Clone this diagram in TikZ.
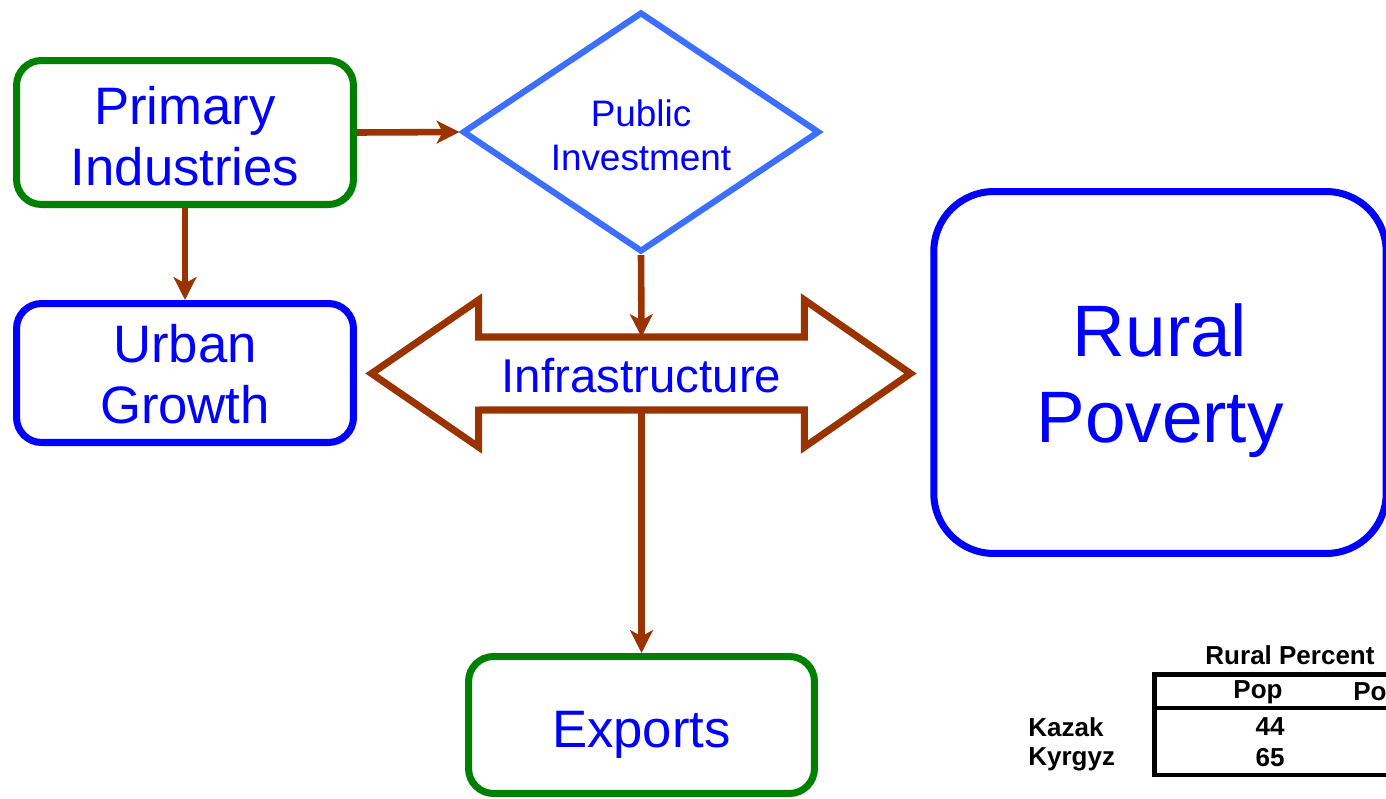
\documentclass[tikz,border=0pt]{standalone}
\usepackage{fontspec}
\setmainfont{Liberation Sans}
\usetikzlibrary{shapes.geometric, arrows.meta}

\definecolor{boxgreen}{RGB}{0,128,0}
\definecolor{boxblue}{RGB}{0,0,255}
\definecolor{lightblue}{RGB}{60,110,255}
\definecolor{rust}{RGB}{153,51,0}

% lower the ink of a line, keep its size
\newcommand{\lowtext}[2]{\raisebox{-#1}[\height][\depth]{#2}}

\tikzset{
    greenbox/.style={draw=boxgreen, line width=4pt, rounded corners=0.5cm, text=boxblue, align=center, inner sep=0pt},
    bluebox/.style={draw=boxblue, line width=4pt, rounded corners=0.5cm, text=boxblue, align=center, inner sep=0pt},
    flowarrow/.style={draw=rust, line width=3.75pt, -{Stealth[length=13pt, width=13pt, inset=3.5pt]}},
    tabletext/.style={font=\fontsize{14.8}{17}\selectfont\bfseries, inner sep=0pt}
}

\begin{document}
\begin{tikzpicture}[x=0.02cm, y=-0.02cm]
    % Fix the frame of the picture
    \useasboundingbox (0,0) rectangle (1386,798);
    \clip (0,0) rectangle (1386,798);

    % Boxes on the left
    \node[greenbox, minimum width=6.74cm, minimum height=2.88cm, font=\fontsize{30}{35}\selectfont] (primary) at (185,132.5) {\lowtext{2pt}{Primary}\\\lowtext{2pt}{Industries}};
    \node[bluebox, minimum width=6.74cm, minimum height=2.78cm, font=\fontsize{30}{35}\selectfont] (urban) at (185,373) {\lowtext{0.8pt}{Urban}\\\lowtext{0.8pt}{Growth}};

    % Public investment diamond
    \node[diamond, aspect=1.5, draw=lightblue, line width=3.5pt, minimum width=7.14cm, minimum height=4.8cm, inner sep=0pt, text=boxblue, align=center, font=\fontsize{21}{25}\selectfont] (invest) at (641,132) {\lowtext{1.7pt}{Public}\\\lowtext{1.7pt}{Investment}};

    % Infrastructure double arrow
    \node[minimum width=6.52cm, minimum height=1.46cm, inner sep=0pt, outer sep=0pt, text=boxblue, font=\fontsize{27}{32}\selectfont] (infra) at (641.5,373.5) {\lowtext{1pt}{Infrastructure}};
    \draw[rust, line width=4pt] (infra.north west) -- ++(0,-37) -- ++(-107,73.5) -- ++(107,73.5) -- ++(0,-37)
        -- (infra.south east) -- ++(0,37) -- ++(106,-73.5) -- ++(-106,-73.5) -- ++(0,37) -- cycle;

    % Big box on the right and exports at the bottom
    \node[bluebox, rounded corners=1.2cm, minimum width=9.05cm, minimum height=7.24cm, font=\fontsize{41.5}{49}\selectfont] (rural) at (1160,372.5) {\lowtext{4.5pt}{Rural}\\\lowtext{4.5pt}{Poverty}};
    \node[greenbox, minimum width=6.92cm, minimum height=2.74cm, font=\fontsize{30}{35}\selectfont] (exports) at (641.5,725) {\lowtext{5.7pt}{Exports}};

    % Arrows between the boxes
    \draw[flowarrow] (primary.east) -- (invest.west);
    \draw[flowarrow] (primary.south) -- (urban.north);
    \draw[flowarrow] (invest.south) -- (infra.north);
    \draw[flowarrow] (infra.south) -- (exports.north);

    % Small table
    \node[tabletext] (rpct) at (1290,655) {Rural Percent};
    \draw[line width=2.8pt] (1154.5,674.5) rectangle (1460,775);
    \draw[line width=2.5pt] (1154.5,708) -- (1460,708);
    \node[tabletext] (pophead) at (1258,692) {Pop};
    \node[tabletext, anchor=west] (povhead) at (1353,692) {Po};
    \node[tabletext, anchor=west] (kazak) at (1028,727) {Kazak};
    \node[tabletext, anchor=west] (kyrgyz) at (1028,759) {Kyrgyz};
    \node[tabletext] (kazakpop) at (1270,727) {44};
    \node[tabletext] (kyrgyzpop) at (1270,758) {65};
\end{tikzpicture}
\end{document}
